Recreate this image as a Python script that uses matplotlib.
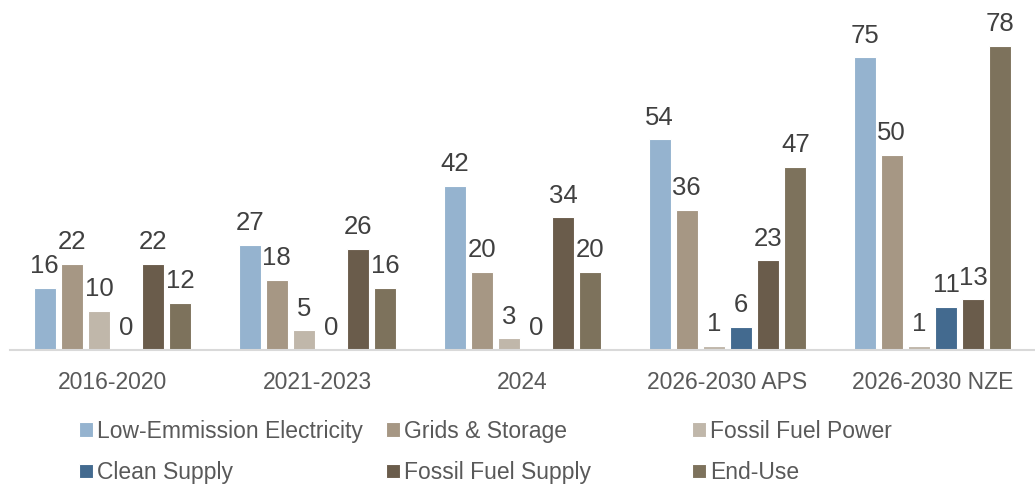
import numpy as np
from matplotlib import pyplot as plt

plt.rcParams['font.family'] = ['Liberation Sans', 'DejaVu Sans']

periods = ['2016-2020', '2021-2023', '2024', '2026-2030 APS', '2026-2030 NZE']
series = ['Low-Emmission Electricity', 'Grids & Storage', 'Fossil Fuel Power',
          'Clean Supply', 'Fossil Fuel Supply', 'End-Use']
low_emission = [16, 27, 42, 54, 75]
grids_storage = [22, 18, 20, 36, 50]
fossil_power = [10, 5, 3, 1, 1]
clean_supply = [0, 0, 0, 6, 11]
fossil_supply = [22, 26, 34, 23, 13]
end_use = [12, 16, 20, 47, 78]

colors = ['#95B3CF', '#A69784', '#C0B7AA', '#436A8F', '#6A5C4B', '#7D725C']
values = [low_emission, grids_storage, fossil_power, clean_supply, fossil_supply, end_use]

fig = plt.figure(figsize=(10.35, 4.86), dpi=100)
ax = fig.add_axes([10 / 1035, 1 - 350 / 486, 1 - 10 / 1035, 350 / 486])

x = np.arange(len(periods))
step = 0.1325
width = 0.107
handles = []
for i, (name, vals) in enumerate(zip(series, values)):
    pos = x + (i - 2.5) * step
    bars = ax.bar(pos, vals, width, color=colors[i], edgecolor='white', linewidth=0.8,
                  label=name, zorder=2)
    handles.append(bars)
    for p, v in zip(pos, vals):
        ax.annotate(str(v), (p, v), xytext=(0, 7), textcoords='offset points',
                    ha='center', va='bottom', fontsize=18.5, color='#404040')

ax.set_xlim(-0.5, 4.5)
ax.set_ylim(0, 89.7)
ax.set_yticks([])
ax.set_xticks(x)
ax.set_xticklabels(periods, fontsize=16.5, color='#595959')
ax.tick_params(axis='x', length=0, pad=15)
for s in ['top', 'left', 'right']:
    ax.spines[s].set_visible(False)
ax.spines['bottom'].set_color('#D9D9D9')
ax.spines['bottom'].set_linewidth(1.5)
ax.spines['bottom'].set_zorder(3)

# three legend columns at fixed positions, two rows each
columns = [[0, 3], [1, 4], [2, 5]]
col_x = [68, 375, 681]
for cx, col in zip(col_x, columns):
    leg = fig.legend([handles[k] for k in col], [series[k] for k in col],
                     loc='center left', bbox_to_anchor=(cx / 1035, 1 - 452 / 486),
                     frameon=False, fontsize=16.5, handlelength=0.6, handleheight=0.6,
                     handletextpad=0.15, labelspacing=0.8, borderpad=0,
                     labelcolor='#595959')

fig.savefig('out.png', dpi=100)
